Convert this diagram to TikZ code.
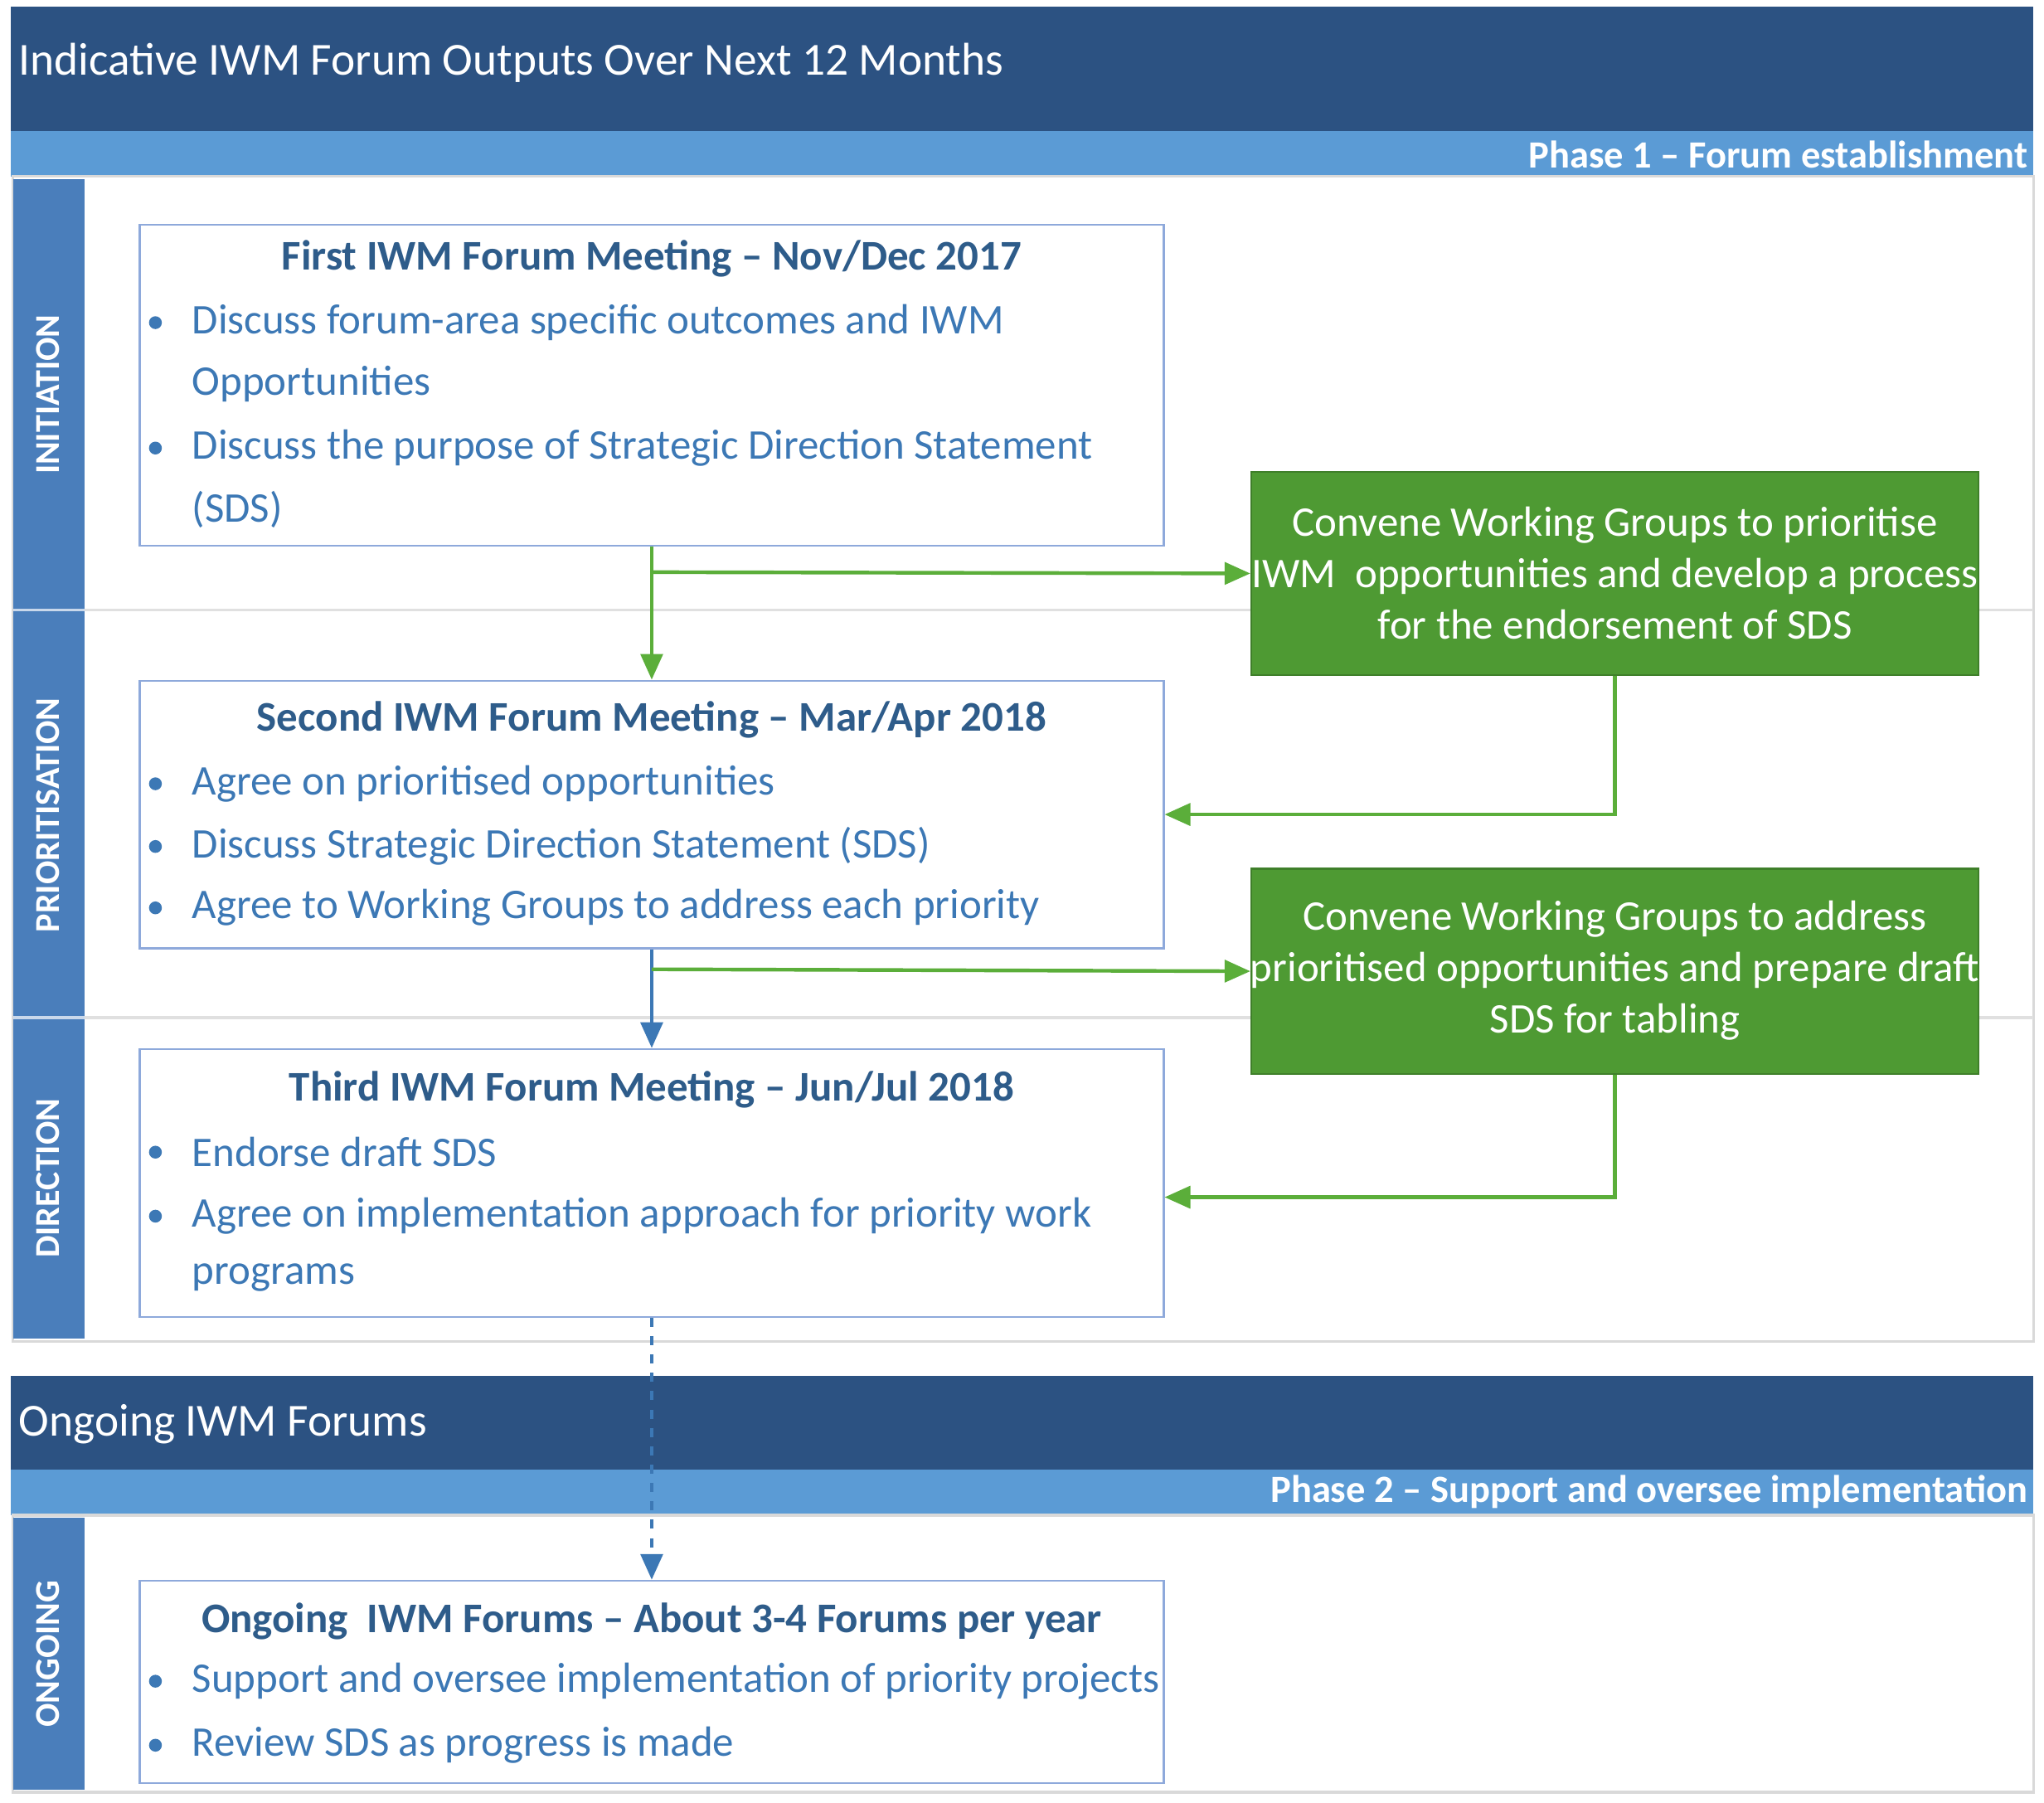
\documentclass[tikz,border=0pt]{standalone}
\usepackage{fontspec}
\setmainfont{Carlito}
\usetikzlibrary{arrows.meta}
\definecolor{dban}{HTML}{2C5282}
\definecolor{lbar}{HTML}{5B9BD5}
\definecolor{side}{HTML}{4A7EBB}
\definecolor{bbord}{HTML}{8EA9DB}
\definecolor{ttl}{HTML}{2E5C8A}
\definecolor{btxt}{HTML}{3C78B5}
\definecolor{gfill}{HTML}{4E9A33}
\definecolor{gbord}{HTML}{3F7F2A}
\definecolor{garr}{HTML}{5BAE3A}
\tikzset{
 x=0.05cm,y=-0.05cm,
 box/.style={draw=bbord,line width=2pt,fill=white,inner sep=0pt},
 gbox/.style={draw=gbord,line width=2pt,fill=gfill,inner sep=0pt},
 ttxt/.style={text=ttl,font=\fontsize{46}{56}\selectfont\bfseries,anchor=center},
 btx/.style={text=btxt,font=\fontsize{46}{56}\selectfont,anchor=west,inner sep=0pt},
 bul/.style={circle,fill=btxt,inner sep=0pt,minimum size=14pt},
 gtx/.style={text=white,font=\fontsize{46}{56}\selectfont,anchor=center,align=center},
 sidetx/.style={text=white,font=\fontsize{38}{44}\selectfont\bfseries,rotate=90,anchor=center},
 bantx/.style={text=white,font=\fontsize{50}{60}\selectfont,anchor=west},
 phtx/.style={text=white,font=\fontsize{42}{50}\selectfont\bfseries,anchor=east},
 garrow/.style={draw=garr,line width=4pt,-{Triangle[length=28pt,width=24pt]}},
 barrow/.style={draw=btxt,line width=4pt,-{Triangle[length=28pt,width=24pt]}},
}
\begin{document}
\begin{tikzpicture}
\useasboundingbox (0,0) rectangle (1565,1380);
\fill[white] (0,0) rectangle (1565,1380);
% panels
\fill[dban] (8,5) rectangle (1557,100);
\fill[lbar] (8,100) rectangle (1557,135);
\draw[black!15,line width=3pt,fill=white] (10,135) rectangle (1557,1027);
\fill[side] (10,137) rectangle (65,1025);
\draw[black!12,line width=3pt] (10,467) -- (1557,467) (10,779) -- (1557,779);
\draw[white!70!side,line width=3pt] (10,467) -- (65,467) (10,779) -- (65,779);
\node[bantx] (t1) at (12,48) {Indicative IWM Forum Outputs Over Next 12 Months};
\node[phtx] (p1) at (1555,118) {Phase 1 – Forum establishment};
\node[sidetx] (s1) at (37,302) {INITIATION};
\node[sidetx] (s2) at (37,624) {PRIORITISATION};
\node[sidetx] (s3) at (37,902) {DIRECTION};

\fill[dban] (8,1053) rectangle (1557,1125);
\fill[lbar] (8,1125) rectangle (1557,1160);
\draw[black!15,line width=3pt,fill=white] (10,1160) rectangle (1557,1372);
\fill[side] (10,1162) rectangle (65,1370);
\node[bantx] (t2) at (12,1090) {Ongoing IWM Forums};
\node[phtx] (p2) at (1555,1142) {Phase 2 – Support and oversee implementation};
\node[sidetx] (s4) at (37,1266) {ONGOING};

% boxes
\node[box,minimum width=784*0.05cm,minimum height=246*0.05cm] (b1) at (499,295) {};
\node[box,minimum width=784*0.05cm,minimum height=205*0.05cm] (b2) at (499,623.5) {};
\node[box,minimum width=784*0.05cm,minimum height=205*0.05cm] (b3) at (499,905.5) {};
\node[box,minimum width=784*0.05cm,minimum height=155*0.05cm] (b4) at (499,1287.5) {};
\node[gbox,minimum width=557*0.05cm,minimum height=156*0.05cm] (g1) at (1236.5,439) {};
\node[gbox,minimum width=557*0.05cm,minimum height=157*0.05cm] (g2) at (1236.5,743.5) {};

\node[ttxt] (h1) at (499,198) {First IWM Forum Meeting – Nov/Dec 2017};
\node[bul] (u11) at (119,247) {}; \node[btx] (l11) at (147,247) {Discuss forum-area specific outcomes and IWM};
\node[btx] (l12) at (147,294) {Opportunities};
\node[bul] (u12) at (119,343) {}; \node[btx] (l13) at (147,343) {Discuss the purpose of Strategic Direction Statement};
\node[btx] (l14) at (147,390) {(SDS)};

\node[ttxt] (h2) at (499,551) {Second IWM Forum Meeting – Mar/Apr 2018};
\node[bul] (u21) at (119,600) {}; \node[btx] (l21) at (147,600) {Agree on prioritised opportunities};
\node[bul] (u22) at (119,648) {}; \node[btx] (l22) at (147,648) {Discuss Strategic Direction Statement (SDS)};
\node[bul] (u23) at (119,695) {}; \node[btx] (l23) at (147,695) {Agree to Working Groups to address each priority};

\node[ttxt] (h3) at (499,834) {Third IWM Forum Meeting – Jun/Jul 2018};
\node[bul] (u31) at (119,882) {}; \node[btx] (l31) at (147,882) {Endorse draft SDS};
\node[bul] (u32) at (119,931) {}; \node[btx] (l32) at (147,931) {Agree on implementation approach for priority work};
\node[btx] (l33) at (147,978) {programs};

\node[ttxt] (h4) at (499,1241) {Ongoing\ \ IWM Forums – About 3-4 Forums per year};
\node[bul] (u41) at (119,1287) {}; \node[btx] (l41) at (147,1287) {Support and oversee implementation of priority projects};
\node[bul] (u42) at (119,1336) {}; \node[btx] (l42) at (147,1336) {Review SDS as progress is made};

\node[gtx] (gt1) at (1236.5,439) {Convene Working Groups to prioritise\\IWM\ \ opportunities and develop a process\\for the endorsement of SDS};
\node[gtx] (gt2) at (1236.5,743) {Convene Working Groups to address\\prioritised opportunities and prepare draft\\SDS for tabling};

% connectors
\coordinate (j1) at (499,438);
\coordinate (j2) at (499,742);
\draw[garrow] (b1.south) -- (b2.north);
\draw[garrow] (j1) -- (g1.west);
\draw[garrow] (g1.south) |- (b2.east);
\draw[barrow] (b2.south) -- (b3.north);
\draw[garrow] (j2) -- (g2.west);
\draw[garrow] (g2.south) |- ([yshift=-11*0.05cm]b3.east);
\draw[barrow,dashed,dash pattern=on 10pt off 10pt] (b3.south) -- (b4.north);
\end{tikzpicture}
\end{document}
